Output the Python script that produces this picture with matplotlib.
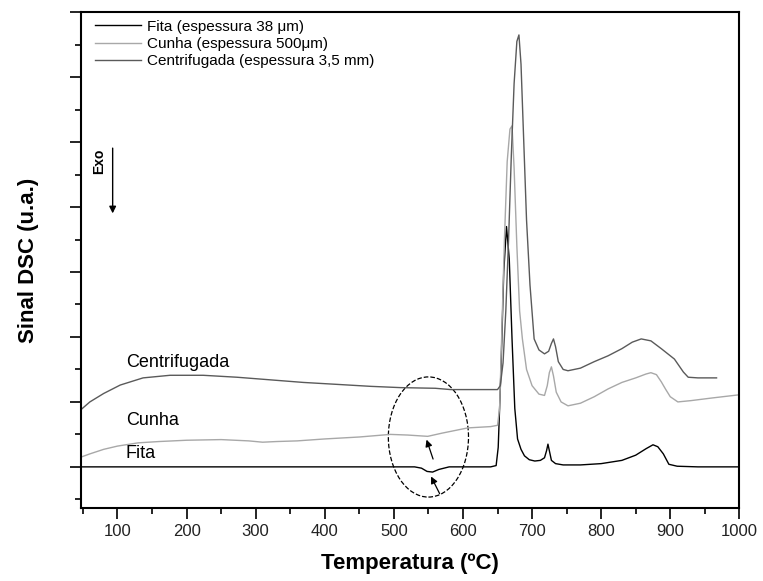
import matplotlib
matplotlib.use('Agg')
import matplotlib.pyplot as plt
from matplotlib.patches import Ellipse
from matplotlib.ticker import MultipleLocator

plt.rcParams['font.family'] = ['Liberation Sans', 'DejaVu Sans']

# DSC curves (temperature in C, signal in arbitrary units)
fita_t = [47, 100, 200, 300, 400, 500, 530, 540, 548, 556, 565, 580, 600, 640, 648, 651,
          655, 659, 663, 667, 671, 675, 679, 684, 689, 696, 704, 712, 718, 721, 723, 725,
          728, 734, 745, 770, 800, 830, 850, 865, 875, 882, 890, 898, 910, 940, 970, 1000]
fita_y = [0, 0, 0, 0, 0, 0, 0, -0.02, -0.07, -0.08, -0.04, 0, 0, 0, 0.02, 0.3,
          1.5, 3.0, 3.7, 3.2, 1.97, 0.9, 0.43, 0.27, 0.17, 0.11, 0.09, 0.1, 0.14, 0.25, 0.35, 0.25,
          0.1, 0.05, 0.03, 0.03, 0.05, 0.1, 0.18, 0.28, 0.34, 0.31, 0.2, 0.04, 0.01, 0, 0, 0]

cunha_t = [47, 60, 80, 100, 130, 160, 200, 250, 290, 310, 330, 360, 400, 450, 495, 520,
           549, 570, 607, 640, 650, 653, 656, 660, 664, 668, 671, 674, 678, 682, 686, 692,
           700, 710, 718, 722, 725, 728, 731, 735, 742, 752, 770, 790, 810, 830, 850, 865,
           872, 880, 887, 893, 900, 911, 930, 960, 1000]
cunha_y = [0.15, 0.2, 0.27, 0.32, 0.37, 0.39, 0.41, 0.42, 0.40, 0.38, 0.39, 0.40, 0.43, 0.46, 0.50, 0.49,
           0.47, 0.52, 0.60, 0.62, 0.64, 0.9, 2.0, 3.5, 4.7, 5.2, 5.25, 4.6, 3.4, 2.4, 1.97, 1.5,
           1.25, 1.12, 1.1, 1.25, 1.45, 1.54, 1.4, 1.15, 1.0, 0.94, 0.98, 1.08, 1.2, 1.3, 1.37, 1.43,
           1.45, 1.42, 1.31, 1.2, 1.08, 1.0, 1.02, 1.06, 1.11]

centr_t = [47, 60, 80, 104, 137, 176, 224, 273, 321, 369, 418, 466, 510, 560, 582, 600,
           650, 654, 658, 662, 666, 670, 674, 678, 681, 684, 688, 692, 697, 703, 710, 718,
           724, 728, 731, 734, 738, 745, 752, 770, 790, 810, 830, 845, 858, 872, 887, 906,
           919, 926, 940, 955, 967]
centr_y = [0.88, 1.0, 1.13, 1.26, 1.37, 1.41, 1.41, 1.38, 1.34, 1.30, 1.27, 1.24, 1.22, 1.21, 1.19, 1.19,
           1.19, 1.25, 1.6, 2.4, 3.5, 4.8, 5.9, 6.55, 6.65, 6.2, 5.0, 3.8, 2.8, 1.97, 1.8, 1.74,
           1.78, 1.9, 1.97, 1.85, 1.62, 1.5, 1.48, 1.52, 1.62, 1.71, 1.82, 1.92, 1.97, 1.94, 1.82, 1.66,
           1.46, 1.38, 1.37, 1.37, 1.37]

labels = ['Fita (espessura 38 \u03bcm)', 'Cunha (espessura 500\u03bcm)', 'Centrifugada (espessura 3,5 mm)']
colors = ['black', '#a8a8a8', '#5a5a5a']

fig = plt.figure(figsize=(7.63, 5.81), dpi=100)
ax = fig.add_axes([0.106, 0.126, 0.863, 0.853])

ax.plot(fita_t, fita_y, color=colors[0], lw=1.0, label=labels[0])
ax.plot(cunha_t, cunha_y, color=colors[1], lw=1.0, label=labels[1])
ax.plot(centr_t, centr_y, color=colors[2], lw=1.0, label=labels[2])

ax.set_xlim(47, 1000)
ax.set_ylim(-0.63, 7.0)
ax.xaxis.set_major_locator(MultipleLocator(100))
ax.xaxis.set_minor_locator(MultipleLocator(50))
ax.yaxis.set_major_locator(MultipleLocator(1))
ax.yaxis.set_minor_locator(MultipleLocator(0.5))
ax.tick_params(which='major', length=8, width=1.2, direction='out', labelsize=12, pad=4)
ax.tick_params(which='minor', length=4, width=1.2, direction='out')
ax.tick_params(axis='y', labelleft=False)
for lab in ax.get_xticklabels():
    lab.set_family(['Liberation Sans Narrow', 'Liberation Sans'])
    lab.set_color('#222222')
for s in ax.spines.values():
    s.set_linewidth(1.5)

ax.set_xlabel('Temperatura (\u00baC)', fontsize=16, fontweight='bold', labelpad=10)
ax.set_ylabel('Sinal DSC (u.a.)', fontsize=16, fontweight='bold', labelpad=22)

ax.legend(loc='upper left', frameon=False, fontsize=11, handlelength=3, handletextpad=0.4,
          borderaxespad=0.0, bbox_to_anchor=(0.012, 0.997), labelspacing=0.2)

# curve names
ax.text(112, 1.6, 'Centrifugada', fontsize=13, va='center')
ax.text(112, 0.71, 'Cunha', fontsize=13, va='center')
ax.text(112, 0.2, 'Fita', fontsize=13, va='center')

# Exo arrow
ax.annotate('', xy=(93, 3.86), xytext=(93, 4.95),
            arrowprops=dict(arrowstyle='-|>', color='black', lw=1.0))
ax.text(74, 4.7, 'Exo', rotation=90, fontsize=10, fontweight='bold', ha='center', va='center')

# dashed ellipse and arrows
ax.add_patch(Ellipse((550, 0.46), 116, 1.85, fill=False, ls='--', lw=0.9, color='black'))
ax.annotate('', xy=(546, 0.46), xytext=(558, 0.08),
            arrowprops=dict(arrowstyle='-|>', color='black', lw=0.9))
ax.annotate('', xy=(552, -0.11), xytext=(568, -0.45),
            arrowprops=dict(arrowstyle='-|>', color='black', lw=0.9))

fig.savefig('out.png', dpi=100)
